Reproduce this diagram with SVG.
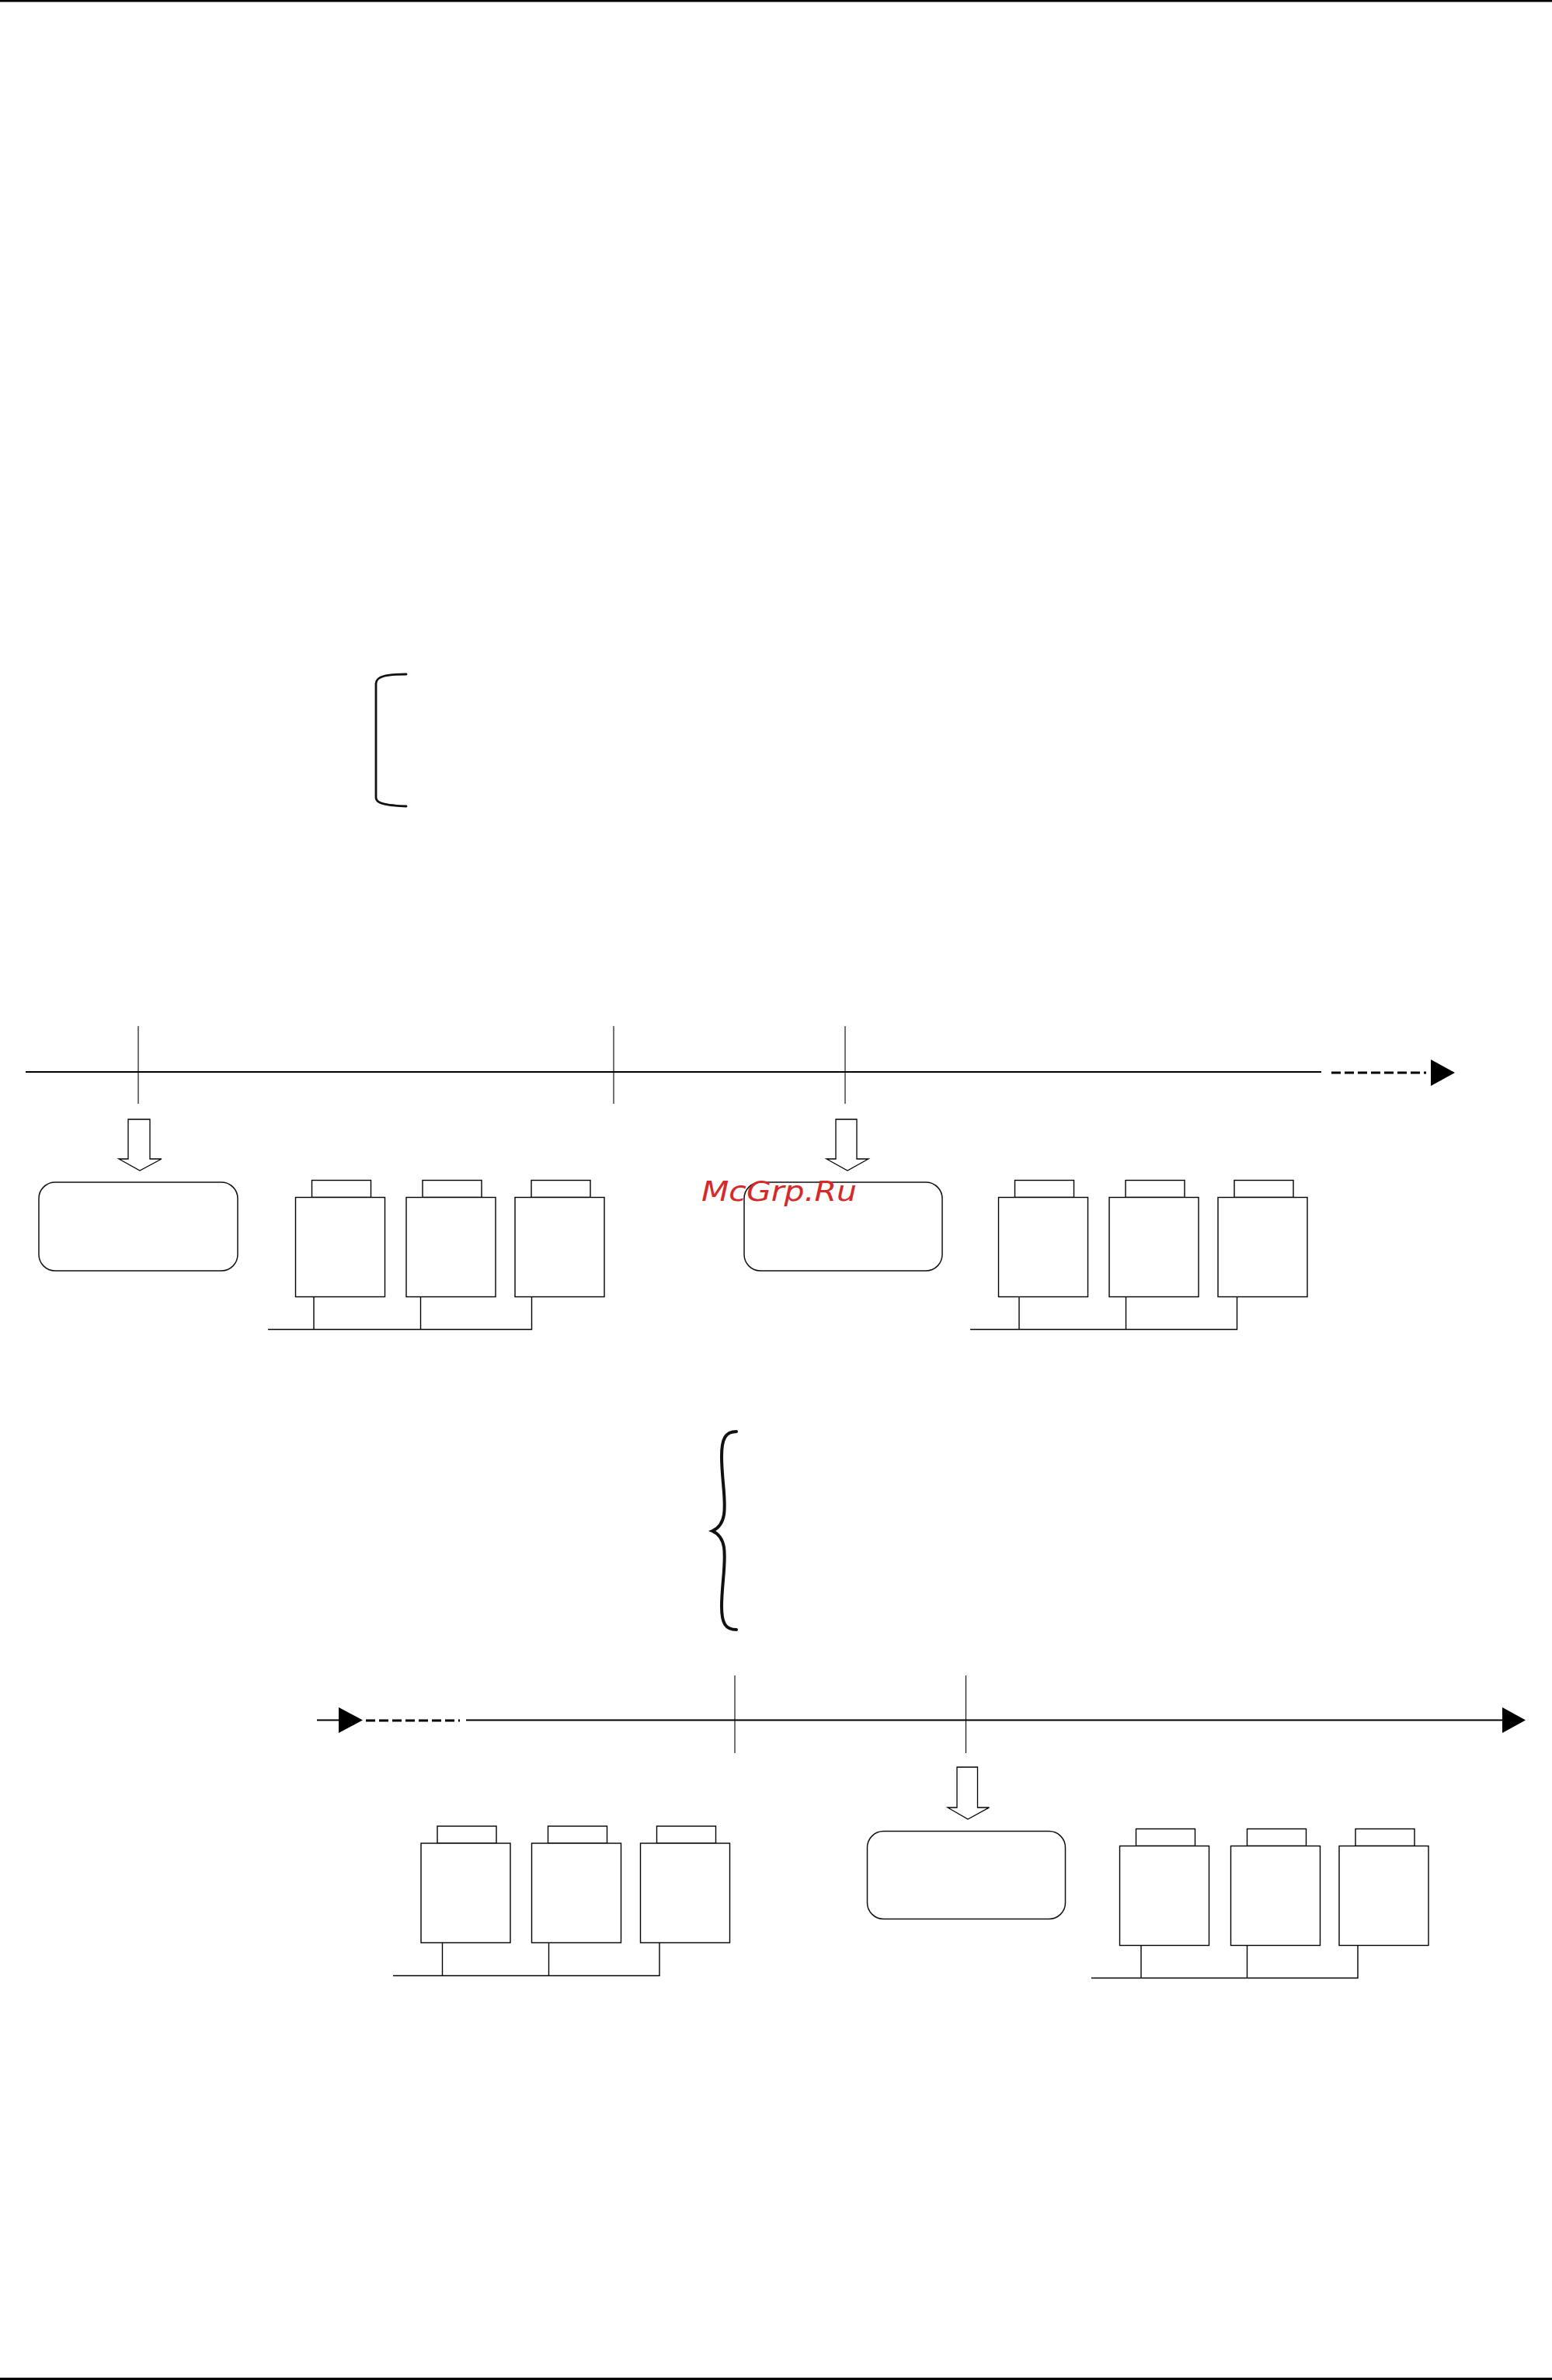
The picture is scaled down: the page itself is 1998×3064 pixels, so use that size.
<svg xmlns="http://www.w3.org/2000/svg" width="1998" height="3064" viewBox="0 0 1998 3064">
<style>
.bg{fill:#fff}
.page{stroke:#000;stroke-width:3;fill:none}
.axis{stroke:#000;stroke-width:2;fill:none}
.dash{stroke:#000;stroke-width:3;stroke-dasharray:12 5;fill:none}
.tick{stroke:#000;stroke-width:1.1;fill:none}
.head{fill:#000;stroke:none}
.blk{fill:#fff;stroke:#000;stroke-width:1.3}
.rr{fill:#fff;stroke:#111;stroke-width:1.5}
.unit{fill:#fff;stroke:#000;stroke-width:1.4}
.wire{stroke:#000;stroke-width:1.4;fill:none}
.brace{stroke:#111;fill:none;stroke-linecap:round}
.wm{font-family:"DejaVu Sans",sans-serif;font-style:italic;fill:#d42a2a}
</style>
<defs>
<g id="unitShape">
<rect class="unit" x="21" y="0" width="76" height="22"/>
<rect class="unit" x="0" y="22" width="115" height="128"/>
</g>
</defs>
<rect class="bg" x="0" y="0" width="1998" height="3064"/>
<g id="page-borders">
<line class="page" x1="0" y1="1" x2="1998" y2="1"/>
<line class="page" x1="0" y1="3062.5" x2="1998" y2="3062.5"/>
</g>
<g id="bracket">
<path class="brace" stroke-width="2.8" d="M523,868 C500,868 484,870 484,880 L484,1027 C484,1035 500,1037 523,1038"/>
</g>
<g id="curly-brace">
<path class="brace" stroke-width="4" d="M948,1843 C934,1843 929,1852 929,1875 C929,1905 935,1930 932,1950 C930,1962 924,1968 917,1971 C924,1974 930,1980 932,1992 C935,2012 929,2040 929,2068 C929,2090 934,2098 948,2098"/>
</g>
<g id="connectors">
<line class="axis" x1="33" y1="1380" x2="1701" y2="1380"/>
<line class="dash" x1="1714" y1="1381" x2="1836" y2="1381"/>
<polygon class="head" points="1842,1364 1873,1381 1842,1398"/>
<line class="tick" x1="178" y1="1321" x2="178" y2="1421"/>
<line class="tick" x1="790" y1="1321" x2="790" y2="1421"/>
<line class="tick" x1="1088" y1="1321" x2="1088" y2="1421"/>
<line class="axis" x1="408" y1="2214.5" x2="440" y2="2214.5"/>
<polygon class="head" points="436,2198 467,2214.5 436,2231"/>
<line class="dash" x1="471" y1="2215" x2="592" y2="2215"/>
<line class="axis" x1="600" y1="2214.5" x2="1940" y2="2214.5"/>
<polygon class="head" points="1934,2198 1964,2214.5 1934,2231"/>
<line class="tick" x1="946" y1="2157" x2="946" y2="2257"/>
<line class="tick" x1="1243.5" y1="2157" x2="1243.5" y2="2257"/>
<polygon class="blk" points="165,1441 193,1441 193,1492 208,1492 180,1507 153,1492 165,1492"/>
<polygon class="blk" points="1076,1441 1103,1441 1103,1492 1118,1492 1091,1507 1064,1492 1076,1492"/>
<polygon class="blk" points="1232,2275 1258.5,2275 1258.5,2327 1273.5,2327 1246,2342 1220,2327 1232,2327"/>
<polyline class="wire" points="404,1669 404,1711.5"/>
<polyline class="wire" points="541.5,1669 541.5,1711.5"/>
<polyline class="wire" points="345,1711.5 684.5,1711.5 684.5,1669"/>
<polyline class="wire" points="1312,1669 1312,1711.5"/>
<polyline class="wire" points="1449.5,1669 1449.5,1711.5"/>
<polyline class="wire" points="1249,1711.5 1592.5,1711.5 1592.5,1669"/>
<polyline class="wire" points="569.5,2500.5 569.5,2543.5"/>
<polyline class="wire" points="706.5,2500.5 706.5,2543.5"/>
<polyline class="wire" points="506,2543.5 849,2543.5 849,2500.5"/>
<polyline class="wire" points="1469,2504 1469,2546.5"/>
<polyline class="wire" points="1605.5,2504 1605.5,2546.5"/>
<polyline class="wire" points="1405,2546.5 1748,2546.5 1748,2504"/>
</g>
<g id="node-box-1"><rect class="rr" x="50" y="1522" width="256" height="114" rx="21" ry="21"/></g>
<g id="node-box-2"><rect class="rr" x="958" y="1522" width="255" height="114" rx="21" ry="21"/></g>
<g id="node-box-3"><rect class="rr" x="1116.5" y="2357.5" width="255" height="113" rx="21" ry="21"/></g>
<g id="unit-1-1"><use href="#unitShape" x="380.5" y="1519.5"/></g>
<g id="unit-1-2"><use href="#unitShape" x="523" y="1519.5"/></g>
<g id="unit-1-3"><use href="#unitShape" x="663" y="1519.5"/></g>
<g id="unit-1-4"><use href="#unitShape" x="1285.5" y="1519.5"/></g>
<g id="unit-1-5"><use href="#unitShape" x="1428" y="1519.5"/></g>
<g id="unit-1-6"><use href="#unitShape" x="1568" y="1519.5"/></g>
<g id="unit-2-1"><use href="#unitShape" x="542" y="2351"/></g>
<g id="unit-2-2"><use href="#unitShape" x="684.5" y="2351"/></g>
<g id="unit-2-3"><use href="#unitShape" x="824.5" y="2351"/></g>
<g id="unit-2-4"><use href="#unitShape" x="1441.5" y="2354.5"/></g>
<g id="unit-2-5"><use href="#unitShape" x="1584.5" y="2354.5"/></g>
<g id="unit-2-6"><use href="#unitShape" x="1724" y="2354.5"/></g>
<g id="watermark"><text class="wm" x="903" y="1546" font-size="36" textLength="200" lengthAdjust="spacingAndGlyphs">McGrp.Ru</text></g>
</svg>
